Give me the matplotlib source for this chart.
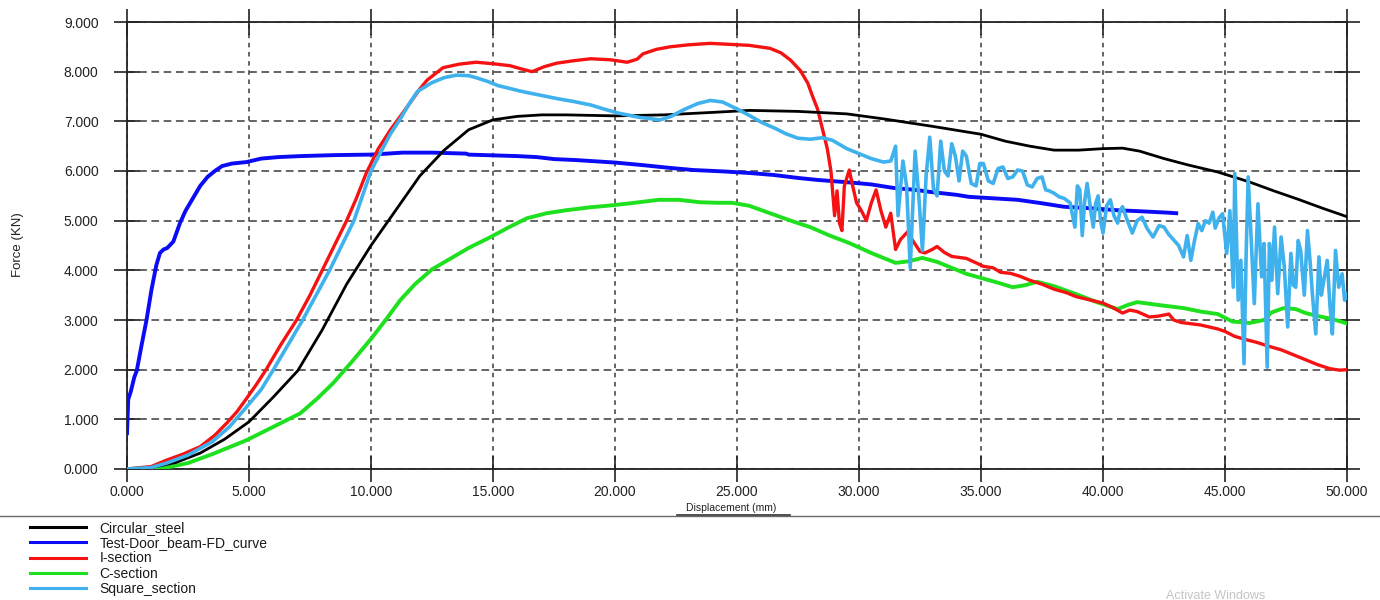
import matplotlib
matplotlib.use("Agg")
import matplotlib.pyplot as plt
from matplotlib.lines import Line2D

plt.rcParams['font.family'] = ['Liberation Sans', 'DejaVu Sans']

# ---------------- data ----------------
series_names = ["Circular_steel", "Test-Door_beam-FD_curve", "I-section",
                "C-section", "Square_section"]
series_colors = ["#000000", "#0b0bf5", "#f51212", "#1fe01f", "#3fb2ee"]

circ_x = [0, 1, 2, 3, 4, 5, 6, 7, 8, 9, 10, 11, 12, 13, 14, 15, 16, 17, 18, 20,
          22, 24, 25.5, 27.5, 29.5, 31, 33, 35, 36, 37, 38, 39, 40, 40.8, 41.5,
          42.5, 43.5, 44.7, 46, 47, 48, 49, 50]
circ_y = [0, 0.03, 0.13, 0.32, 0.6, 0.95, 1.45, 1.98, 2.8, 3.72, 4.5, 5.2, 5.9,
          6.42, 6.83, 7.03, 7.1, 7.13, 7.13, 7.11, 7.13, 7.18, 7.22, 7.2, 7.15,
          7.05, 6.9, 6.74, 6.6, 6.5, 6.42, 6.42, 6.45, 6.46, 6.4, 6.25, 6.12,
          5.98, 5.78, 5.6, 5.43, 5.25, 5.08]

door_x = [0, 0.05, 0.15, 0.3, 0.4, 0.6, 0.8, 1.0, 1.2, 1.35, 1.5, 1.65, 1.9,
          2.17, 2.4, 2.7, 3.0, 3.3, 3.6, 3.9, 4.3, 4.9, 5.5, 6.2, 7.1, 8.5,
          10.0, 11.3, 12.5, 13.9, 14.0, 16.0, 16.8, 17.5, 18.4, 20.0, 21.1,
          22.3, 23.2, 24.5, 25.5, 26.5, 27.5, 28.3, 29.6, 30.5, 31.4, 32.3,
          32.9, 34.0, 34.5, 35.5, 36.5, 37.5, 38.4, 39.5, 40.6, 41.5, 42.7, 43.0]
door_y = [0.72, 1.4, 1.55, 1.85, 1.98, 2.5, 3.0, 3.6, 4.1, 4.35, 4.42, 4.45,
          4.58, 4.95, 5.2, 5.45, 5.7, 5.88, 6.0, 6.1, 6.15, 6.18, 6.25, 6.28,
          6.3, 6.32, 6.33, 6.37, 6.37, 6.35, 6.33, 6.3, 6.28, 6.24, 6.22, 6.17,
          6.12, 6.06, 6.02, 5.99, 5.96, 5.92, 5.86, 5.82, 5.77, 5.73, 5.66,
          5.62, 5.58, 5.52, 5.48, 5.45, 5.42, 5.35, 5.28, 5.25, 5.21, 5.19,
          5.16, 5.15]

isec_x = [0, 1, 1.63, 2.3, 3.0, 3.6, 4.1, 4.5, 4.9, 5.3, 5.7, 6.3, 6.95, 7.5,
          8.0, 8.5, 9.0, 9.4, 9.8, 10.3, 10.8, 11.2, 11.6, 12.0, 12.3, 12.95,
          13.6, 14.3, 15.0, 15.7, 16.2, 16.6, 17.1, 17.6, 18.3, 19.0, 19.8,
          20.5, 20.9, 21.15, 21.7, 22.25, 23.0, 23.9, 24.7, 25.5, 26.35, 26.8,
          27.2, 27.6, 27.9, 28.1, 28.3, 28.5, 28.7, 28.85, 29.0, 29.1, 29.2,
          29.3, 29.4, 29.6, 29.75, 29.9, 30.1, 30.3, 30.5, 30.7, 30.9, 31.1,
          31.3, 31.5, 31.7, 32.0, 32.2, 32.5, 32.7, 33.0, 33.2, 33.5, 33.8,
          34.4, 34.8, 35.1, 35.5, 35.8, 36.2, 36.6, 37.0, 37.5, 38.0, 38.5,
          38.9, 39.5, 40.0, 40.4, 40.8, 41.1, 41.4, 41.9, 42.3, 42.7, 42.9,
          43.2, 44.0, 44.7, 45.0, 45.4, 45.9, 46.3, 46.8, 47.3, 47.8, 48.3,
          48.8, 49.3, 49.7, 50.0]
isec_y = [0, 0.05, 0.18, 0.3, 0.45, 0.68, 0.93, 1.15, 1.42, 1.7, 2.0, 2.5, 3.0,
          3.5, 4.0, 4.5, 5.0, 5.45, 5.95, 6.45, 6.83, 7.1, 7.37, 7.65, 7.83,
          8.08, 8.15, 8.19, 8.16, 8.12, 8.05, 8.0, 8.1, 8.17, 8.22, 8.26, 8.24,
          8.19, 8.25, 8.36, 8.45, 8.5, 8.54, 8.57, 8.55, 8.53, 8.47, 8.38, 8.23,
          8.02, 7.77, 7.5, 7.25, 6.85, 6.45, 6.0, 5.1, 5.6, 4.95, 4.8, 5.7,
          6.02, 5.68, 5.36, 5.2, 5.0, 5.35, 5.62, 5.2, 4.87, 5.15, 4.42, 4.62,
          4.78, 4.6, 4.38, 4.35, 4.42, 4.48, 4.36, 4.28, 4.24, 4.15, 4.08, 4.05,
          3.96, 3.94, 3.88, 3.8, 3.72, 3.62, 3.55, 3.47, 3.4, 3.34, 3.25, 3.14,
          3.2, 3.17, 3.06, 3.08, 3.12, 3.0, 2.95, 2.9, 2.82, 2.77, 2.67, 2.6,
          2.55, 2.47, 2.4, 2.3, 2.2, 2.1, 2.02, 1.99, 2.0]

csec_x = [0, 1, 1.63, 2.5, 3.5, 4.9, 6.0, 7.1, 7.8, 8.45, 9.2, 10.0, 10.6, 11.2,
          11.8, 12.5, 13.2, 14.0, 14.9, 15.7, 16.4, 17.2, 18.0, 19.0, 19.9,
          20.8, 21.8, 22.6, 23.5, 24.2, 24.8, 25.5, 26.35, 27.2, 28.0, 28.8,
          29.6, 30.5, 31.5, 32.0, 32.6, 33.2, 34.4, 35.7, 36.3, 36.8, 37.3,
          38.0, 38.9, 39.8, 40.6, 41.0, 41.4, 42.3, 43.3, 44.0, 44.7, 45.3,
          46.0, 46.6, 46.9, 47.4, 47.9, 48.3, 48.8, 49.4, 50.0]
csec_y = [0, 0.01, 0.03, 0.12, 0.3, 0.58, 0.85, 1.12, 1.42, 1.73, 2.15, 2.62,
          3.0, 3.4, 3.72, 4.02, 4.22, 4.45, 4.67, 4.88, 5.05, 5.15, 5.21, 5.27,
          5.31, 5.36, 5.42, 5.42, 5.37, 5.36, 5.36, 5.3, 5.15, 5.0, 4.87, 4.7,
          4.55, 4.35, 4.15, 4.18, 4.25, 4.17, 3.93, 3.75, 3.66, 3.7, 3.77, 3.68,
          3.52, 3.35, 3.22, 3.3, 3.36, 3.3, 3.24, 3.17, 3.12, 2.97, 2.94, 3.0,
          3.15, 3.24, 3.22, 3.14, 3.08, 3.02, 2.93]

sq_x = [0, 1, 1.63, 2.5, 3.5, 4.2, 4.9, 5.5, 6.0, 6.6, 7.2, 7.75, 8.3, 8.8, 9.3,
        9.65, 10.0, 10.4, 10.8, 11.2, 11.6, 11.9, 12.5, 13.0, 13.5, 14.0, 14.3,
        14.8, 15.2, 16.2, 17.0, 17.6, 18.3, 19.0, 19.6, 20.1, 21.0, 21.85, 22.3,
        22.8, 23.4, 23.9, 24.4, 25.0, 25.5, 26.0, 26.6, 27.0, 27.5, 28.0, 28.5,
        28.9, 29.5, 30.0, 30.5, 31.0, 31.3, 31.5, 31.6, 31.8, 31.95, 32.1, 32.3,
        32.45, 32.6, 32.75, 32.9, 33.05, 33.2, 33.35, 33.5, 33.65, 33.8, 33.95,
        34.1, 34.25, 34.4, 34.6, 34.8, 34.95, 35.1, 35.3, 35.5, 35.7, 35.9,
        36.1, 36.3, 36.5, 36.7, 36.9, 37.1, 37.3, 37.5, 37.65, 37.8, 38.0, 38.2,
        38.4, 38.65, 38.85, 38.95, 39.05, 39.15, 39.25, 39.35, 39.5, 39.6, 39.7,
        39.8, 39.9, 40.0, 40.15, 40.3, 40.45, 40.6, 40.7, 40.8, 41.0, 41.2,
        41.4, 41.6, 41.8, 42.05, 42.3, 42.5, 42.7, 42.9, 43.1, 43.3, 43.45,
        43.6, 43.75, 43.9, 44.05, 44.2, 44.35, 44.5, 44.6, 44.75, 44.9, 45.07,
        45.2, 45.34, 45.4, 45.54, 45.65, 45.78, 45.87, 45.95, 46.08, 46.2,
        46.35, 46.5, 46.6, 46.73, 46.82, 46.92, 47.03, 47.16, 47.3, 47.43,
        47.57, 47.7, 47.8, 47.9, 48.0, 48.1, 48.25, 48.38, 48.5, 48.58, 48.72,
        48.85, 48.95, 49.05, 49.19, 49.3, 49.4, 49.53, 49.66, 49.8, 49.9, 50.0]
sq_y = [0, 0.03, 0.12, 0.28, 0.55, 0.85, 1.25, 1.6, 2.0, 2.5, 3.0, 3.5, 4.0,
        4.5, 5.0, 5.5, 6.0, 6.38, 6.75, 7.05, 7.38, 7.6, 7.78, 7.88, 7.93, 7.92,
        7.88, 7.8, 7.72, 7.6, 7.52, 7.46, 7.4, 7.33, 7.24, 7.17, 7.08, 7.03,
        7.1, 7.23, 7.36, 7.42, 7.39, 7.25, 7.12, 6.98, 6.85, 6.75, 6.66, 6.64,
        6.67, 6.62, 6.45, 6.35, 6.25, 6.18, 6.2, 6.5, 5.1, 6.2, 5.7, 4.05, 6.4,
        5.5, 4.4, 5.9, 6.68, 5.65, 5.5, 6.6, 6.0, 5.9, 6.55, 6.3, 5.8, 6.4, 6.3,
        5.75, 5.7, 6.15, 6.15, 5.8, 5.75, 6.05, 6.08, 5.85, 5.88, 6.02, 6.0,
        5.72, 5.68, 5.85, 5.88, 5.62, 5.6, 5.55, 5.48, 5.45, 5.36, 4.87, 5.7,
        5.62, 4.7, 5.4, 5.75, 5.2, 4.87, 5.35, 5.5, 5.0, 4.75, 5.3, 5.42, 5.1,
        4.95, 5.2, 5.28, 5.0, 4.75, 5.0, 5.07, 4.85, 4.67, 4.9, 4.87, 4.72,
        4.61, 4.5, 4.27, 4.7, 4.2, 4.6, 4.94, 4.8, 5.0, 4.95, 5.17, 4.85, 5.05,
        5.14, 4.34, 5.2, 3.66, 5.95, 3.4, 4.2, 2.12, 4.4, 5.88, 4.54, 3.33,
        5.34, 3.87, 4.54, 2.05, 4.54, 3.8, 4.87, 3.53, 4.67, 4.07, 2.86, 4.34,
        3.7, 3.66, 4.6, 4.4, 3.5, 4.8, 4.1, 3.53, 2.72, 4.27, 3.5, 3.8, 4.2,
        3.3, 2.72, 4.4, 3.66, 3.93, 3.4, 3.53]

x_ticks = [0, 5, 10, 15, 20, 25, 30, 35, 40, 45, 50]
y_ticks = [0, 1, 2, 3, 4, 5, 6, 7, 8, 9]

# ---------------- figure ----------------
W, H = 1380, 600
fig = plt.figure(figsize=(W / 100, H / 100), dpi=100)
fig.patch.set_facecolor("white")
ax = fig.add_axes([127 / W, 1 - 469 / H, (1347 - 127) / W, (469 - 22) / H])

all_x = [circ_x, door_x, isec_x, csec_x, sq_x]
all_y = [circ_y, door_y, isec_y, csec_y, sq_y]
widths = [2.0, 2.8, 2.4, 2.8, 2.6]
zorders = [6, 3, 5, 4, 7]
handles = []
for xs, ys, name, col, lw, z in zip(all_x, all_y, series_names, series_colors,
                                    widths, zorders):
    ln, = ax.plot(xs, ys, color=col, lw=lw, label=name, zorder=z,
                  solid_joinstyle="round")
    handles.append(ln)

ax.set_xlim(0, 50)
ax.set_ylim(0, 9)
ax.set_xticks(x_ticks)
ax.set_yticks(y_ticks)
ax.set_xticklabels([f"{v:.3f}" for v in x_ticks])
ax.set_yticklabels([f"{v:.3f}" for v in y_ticks])

for s in ax.spines.values():
    s.set_color("#222222")
    s.set_linewidth(1.3)

ax.tick_params(axis="both", which="major", direction="inout", length=19,
               width=1.2, color="#222222", top=True, right=True,
               labelsize=10, labelcolor="#222222")
ax.tick_params(axis="y", pad=11)
ax.tick_params(axis="x", pad=2)

ax.set_axisbelow(True)
ax.yaxis.grid(True, color="#3a3a3a", lw=1.1, linestyle=(0, (5, 3)))
ax.xaxis.grid(True, color="#3a3a3a", lw=1.1, linestyle=(0, (3, 3)))

# axis labels
fig.text(18 / W, 1 - 245 / H, "Force (KN)", rotation=90, ha="center",
         va="center", fontsize=9.5, color="#222222")
fig.text(731 / W, 1 - 508 / H, "Displacement (mm)", ha="center", va="center",
         fontsize=7.5, color="#222222")

# separator line and underline
fig.add_artist(Line2D([0, 1], [1 - 516 / H, 1 - 516 / H], color="#6a6a6a",
                      lw=1.0, transform=fig.transFigure))
fig.add_artist(Line2D([677 / W, 790 / W], [1 - 515 / H, 1 - 515 / H],
                      color="#333333", lw=1.2, transform=fig.transFigure))

# legend
leg = fig.legend(handles=handles, labels=series_names, loc="upper left",
                 bbox_to_anchor=(30 / W, 1 - 521 / H), frameon=False,
                 fontsize=10, handlelength=4.0, handletextpad=1.0,
                 labelspacing=0.09, borderpad=0, borderaxespad=0)
for t in leg.get_texts():
    t.set_color("#1a1a1a")
for lh in leg.get_lines():
    lh.set_linewidth(2.2)

fig.text(1216 / W, 1 - 596 / H, "Activate Windows", ha="center", va="center",
         fontsize=9, color="#c4c4c4")

fig.savefig("out.png", dpi=100)
